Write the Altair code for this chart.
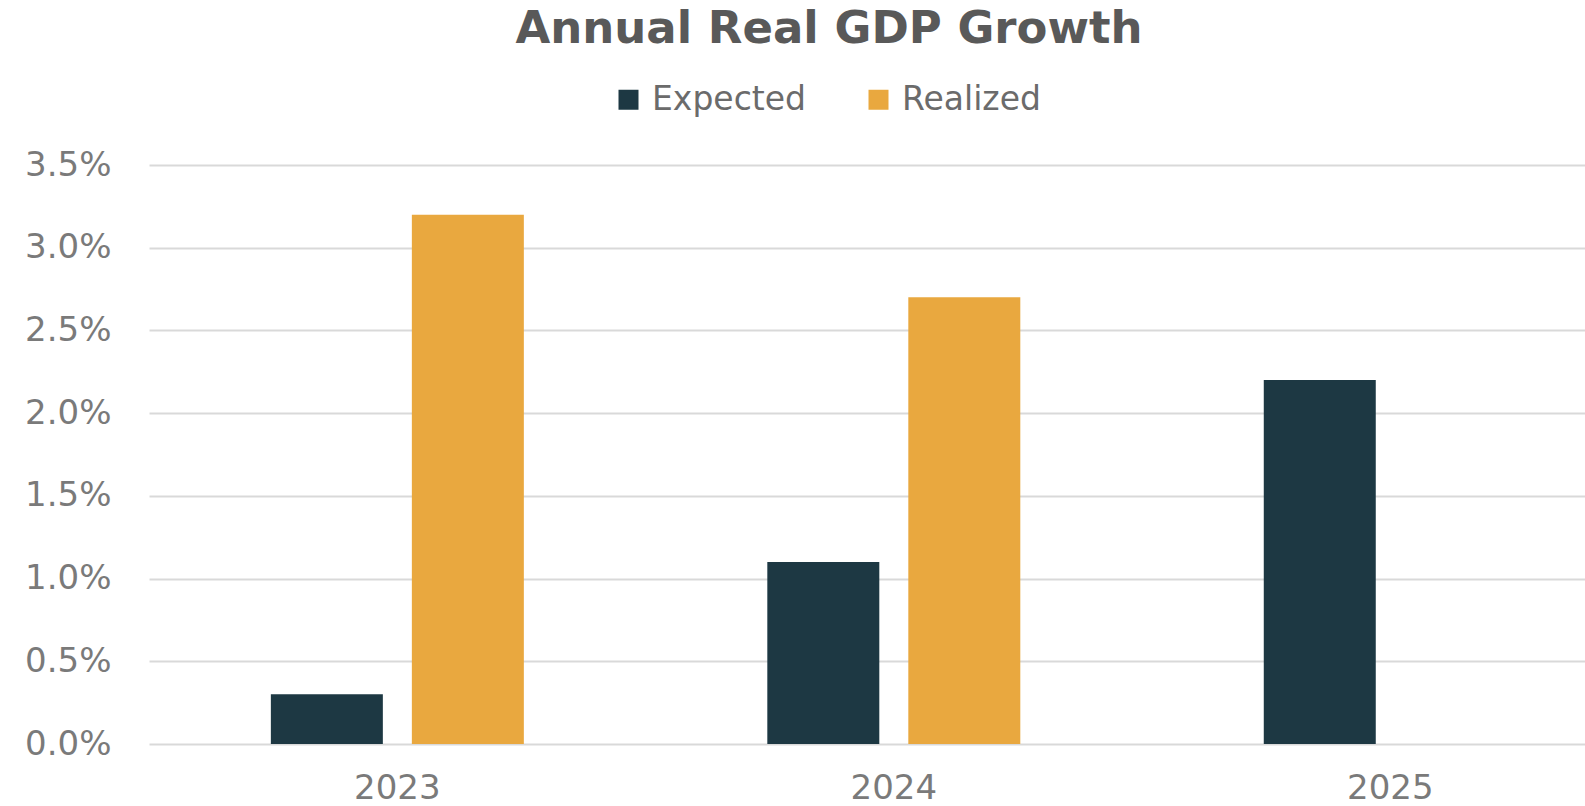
import altair as alt
import pandas as pd

years = ["2023", "2024", "2025"]
series_names = ["Expected", "Realized"]
expected = [0.3, 1.1, 2.2]
realized = [3.2, 2.7, None]
colors = ["#1D3843", "#E9A83F"]
y_ticks = [0, 0.5, 1.0, 1.5, 2.0, 2.5, 3.0, 3.5]

rows = []
for yr, e, r in zip(years, expected, realized):
    if e is not None:
        rows.append({"Year": yr, "Series": "Expected", "Value": e})
    if r is not None:
        rows.append({"Year": yr, "Series": "Realized", "Value": r})
df = pd.DataFrame(rows)

FONT = "DejaVu Sans"

chart = alt.Chart(df).mark_bar().encode(
    x=alt.X(
        "Year:N",
        sort=years,
        scale=alt.Scale(domain=years, paddingInner=0.2155, paddingOuter=0.054, align=1),
        axis=alt.Axis(
            title=None, labelAngle=0, domain=False, ticks=False, grid=False,
            labelFont=FONT, labelFontSize=34, labelColor="#7a7a7a", labelPadding=27,
        ),
    ),
    xOffset=alt.XOffset(
        "Series:N",
        sort=series_names,
        scale=alt.Scale(domain=series_names, paddingInner=0.2057, paddingOuter=0.484),
    ),
    y=alt.Y(
        "Value:Q",
        scale=alt.Scale(domain=[0, 3.5], nice=False),
        axis=alt.Axis(
            title=None, values=y_ticks, domain=False, ticks=False,
            labelExpr="format(datum.value, '.1f') + '%'",
            labelFont=FONT, labelFontSize=34, labelColor="#7a7a7a", labelPadding=38,
            gridColor="#d9d9d9", gridWidth=2,
        ),
    ),
    color=alt.Color(
        "Series:N",
        sort=series_names,
        scale=alt.Scale(domain=series_names, range=colors),
        legend=alt.Legend(
            title=None, orient="none", direction="horizontal",
            legendX=463, legendY=-82, padding=0,
            symbolType="square", symbolSize=400, symbolStrokeWidth=0,
            labelFont=FONT, labelFontSize=33, labelColor="#6b6b6b",
            columnPadding=56, labelOffset=7,
        ),
    ),
).properties(
    width=1436,
    height=579,
    background="white",
    title=alt.TitleParams(
        "Annual Real GDP Growth",
        font=FONT, fontSize=45, fontWeight="bold", color="#595959",
        anchor="middle", frame="group", dx=-38, offset=31,
    ),
    autosize=alt.AutoSizeParams(type="none"),
    padding={"left": 149, "top": 165, "right": 0, "bottom": 62},
).configure_view(stroke=None)

chart.save("out.html", embed_options={"renderer": "svg", "actions": False})
